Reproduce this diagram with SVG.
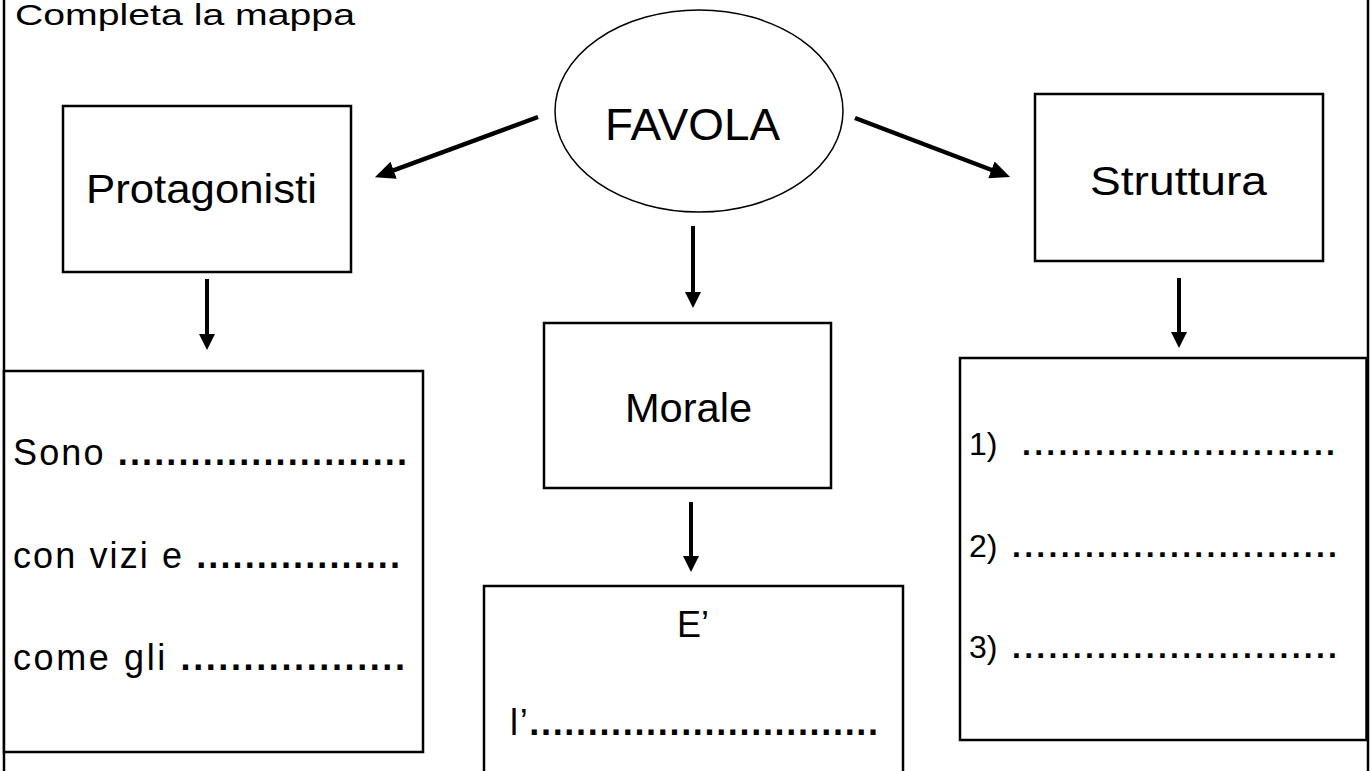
<svg xmlns="http://www.w3.org/2000/svg" width="1371" height="771" viewBox="0 0 1371 771">
<style>
.box{fill:#fff;stroke:#000;stroke-width:2.5}
.t{font-family:"Liberation Sans","Open Sans",sans-serif;fill:#000}
.d{font-weight:700}
.c{stroke:#000;stroke-width:4;fill:none;marker-end:url(#ah)}
.cd{stroke:#000;stroke-width:4.5;fill:none;marker-end:url(#ah2)}
</style>
<defs>
<marker id="ah" viewBox="0 0 16 16" markerWidth="16" markerHeight="16" markerUnits="userSpaceOnUse" refX="4" refY="8" orient="auto">
<path d="M0,0 L16,8 L0,16 z" fill="#000"/>
</marker>
<marker id="ah2" viewBox="0 0 20 18" markerWidth="20" markerHeight="18" markerUnits="userSpaceOnUse" refX="6" refY="9" orient="auto">
<path d="M0,0 L20,9 L0,18 z" fill="#000"/>
</marker>
</defs>
<rect width="1371" height="771" fill="#fff"/>
<rect id="frame" x="4" y="-10" width="1364" height="800" fill="none" stroke="#000" stroke-width="2.5"/>
<text class="t" x="15" y="25" font-size="30" textLength="340" lengthAdjust="spacingAndGlyphs">Completa la mappa</text>

<g id="favola">
<ellipse cx="699" cy="111" rx="144" ry="101" fill="#fff" stroke="#000" stroke-width="1.5"/>
<text class="t" x="605" y="140" font-size="44" textLength="175" lengthAdjust="spacingAndGlyphs">FAVOLA</text>
</g>
<g id="protagonisti">
<rect class="box" x="63" y="106" width="288" height="166"/>
<text class="t" x="86" y="203" font-size="40" textLength="231" lengthAdjust="spacingAndGlyphs">Protagonisti</text>
</g>
<g id="struttura">
<rect class="box" x="1035" y="94" width="288" height="167"/>
<text class="t" x="1090" y="195" font-size="40" textLength="177" lengthAdjust="spacingAndGlyphs">Struttura</text>
</g>
<g id="morale">
<rect class="box" x="544" y="323" width="287" height="165"/>
<text class="t" x="625" y="422" font-size="40" textLength="127" lengthAdjust="spacingAndGlyphs">Morale</text>
</g>
<g id="sono">
<rect class="box" x="4" y="371" width="419" height="381"/>
<text class="t" x="13" y="465" font-size="36" textLength="394" lengthAdjust="spacing">Sono <tspan class="d">........................</tspan></text>
<text class="t" x="13" y="568" font-size="36" textLength="387" lengthAdjust="spacing">con vizi e <tspan class="d">.................</tspan></text>
<text class="t" x="13" y="670" font-size="36" textLength="392" lengthAdjust="spacing">come gli <tspan class="d">..................</tspan></text>
</g>
<g id="elenco">
<rect class="box" x="960" y="358" width="406.5" height="382"/>
<text class="t" x="969" y="455" font-size="32">1)</text>
<text class="t d" x="1022" y="455" font-size="32" textLength="313" lengthAdjust="spacing">..........................</text>
<text class="t" x="969" y="557" font-size="32">2)</text>
<text class="t d" x="1012" y="557" font-size="32" textLength="325" lengthAdjust="spacing">...........................</text>
<text class="t" x="969" y="658" font-size="32">3)</text>
<text class="t d" x="1012" y="658" font-size="32" textLength="325" lengthAdjust="spacing">...........................</text>
</g>
<g id="e">
<rect class="box" x="484" y="586" width="419" height="200"/>
<text class="t" x="677" y="637" font-size="36">E’</text>
<text class="t" x="510" y="735" font-size="36" textLength="368" lengthAdjust="spacing">l’<tspan class="d">..............................</tspan></text>
</g>
<g id="connectors">
<line class="cd" x1="538" y1="117" x2="388" y2="172.3"/>
<line class="cd" x1="855" y1="118" x2="997" y2="172"/>
<line class="c" x1="693" y1="226" x2="693" y2="296"/>
<line class="c" x1="207" y1="279" x2="207" y2="338"/>
<line class="c" x1="1179" y1="278" x2="1179" y2="336"/>
<line class="c" x1="691" y1="502" x2="691" y2="560"/>
</g>
</svg>
